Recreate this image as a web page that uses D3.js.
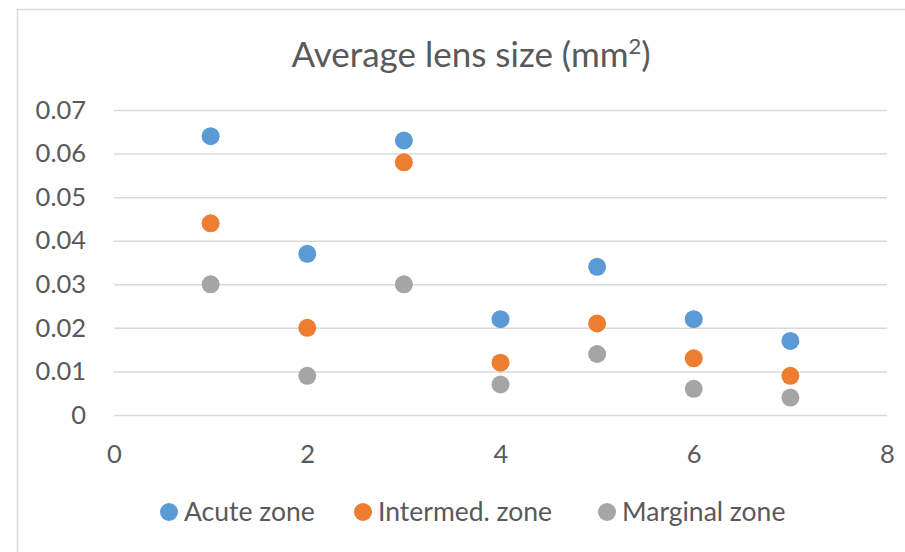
<!DOCTYPE html>
<html>
<head>
<meta charset="utf-8">
<script src="https://cdn.jsdelivr.net/npm/d3@7/dist/d3.min.js"></script>
<style>
  html, body { margin: 0; padding: 0; background: #fff; }
  svg { display: block; }
  text { font-family: Lato, "Open Sans", sans-serif; fill: #595959; }
</style>
</head>
<body>
<svg id="chart" width="905" height="552"></svg>
<script>
const xs = [1, 2, 3, 4, 5, 6, 7];
const acute = [0.064, 0.037, 0.063, 0.022, 0.034, 0.022, 0.017];
const intermed = [0.044, 0.020, 0.058, 0.012, 0.021, 0.013, 0.009];
const marginal = [0.030, 0.009, 0.030, 0.007, 0.014, 0.006, 0.004];
const seriesNames = ["Acute zone", "Intermed. zone", "Marginal zone"];
const seriesColors = ["#5B9BD5", "#ED7D31", "#A5A5A5"];
const xTicks = [0, 2, 4, 6, 8];
const yTicks = [0, 0.01, 0.02, 0.03, 0.04, 0.05, 0.06, 0.07];
const titleText = "Average lens size (mm";

const series = [acute, intermed, marginal].map((vals, i) => ({
  name: seriesNames[i], color: seriesColors[i],
  points: vals.map((v, j) => ({ x: xs[j], y: v }))
}));

const svg = d3.select("#chart");
const W = 905, H = 552;

// chart border
svg.append("rect").attr("x", 17.5).attr("y", 9.5)
  .attr("width", W + 10).attr("height", H + 10)
  .attr("fill", "#fff").attr("stroke", "#D9D9D9").attr("stroke-width", 1.5);

const x = d3.scaleLinear().domain([0, 8]).range([114, 887]);
const y = d3.scaleLinear().domain([0, 0.07]).range([415, 110]);

// gridlines
const grid = svg.append("g").attr("class", "grid")
  .attr("transform", `translate(${x(0)},0)`)
  .call(d3.axisLeft(y).tickValues(yTicks).tickSize(-(x(8) - x(0))).tickFormat(""));
grid.select(".domain").remove();
grid.selectAll("line").attr("stroke", "#D9D9D9").attr("stroke-width", 1.5);

// y axis labels
const yAxis = svg.append("g")
  .attr("transform", `translate(${x(0)},0)`)
  .call(d3.axisLeft(y).tickValues(yTicks).tickSize(0).tickPadding(28)
    .tickFormat(d => d === 0 ? "0" : d3.format(".2f")(d)));
yAxis.select(".domain").remove();
yAxis.selectAll("text").attr("font-size", 25.5).attr("fill", "#595959")
  .attr("font-family", "Lato, 'Open Sans', sans-serif");

// x axis labels
const xAxis = svg.append("g")
  .attr("transform", `translate(0,${y(0)})`)
  .call(d3.axisBottom(x).tickValues(xTicks).tickSize(0).tickPadding(30).tickFormat(d3.format("d")));
xAxis.select(".domain").remove();
xAxis.selectAll("text").attr("font-size", 25.5).attr("fill", "#595959")
  .attr("font-family", "Lato, 'Open Sans', sans-serif");

// points
series.forEach(s => {
  svg.append("g").selectAll("circle").data(s.points).join("circle")
    .attr("cx", d => x(d.x)).attr("cy", d => y(d.y)).attr("r", 9)
    .attr("fill", s.color);
});

// title
const t = svg.append("text").attr("x", 471).attr("y", 67).attr("text-anchor", "middle")
  .attr("font-size", 35);
t.append("tspan").text(titleText);
t.append("tspan").attr("font-size", 22).attr("dy", -13).text("2");
t.append("tspan").attr("dy", 13).text(")");

// legend
const legendX = [169, 363, 607];
const lg = svg.append("g");
series.forEach((s, i) => {
  lg.append("circle").attr("cx", legendX[i]).attr("cy", 512).attr("r", 9).attr("fill", s.color);
  lg.append("text").attr("x", legendX[i] + 15).attr("y", 521).attr("font-size", 26.5).text(s.name);
});
</script>
</body>
</html>
